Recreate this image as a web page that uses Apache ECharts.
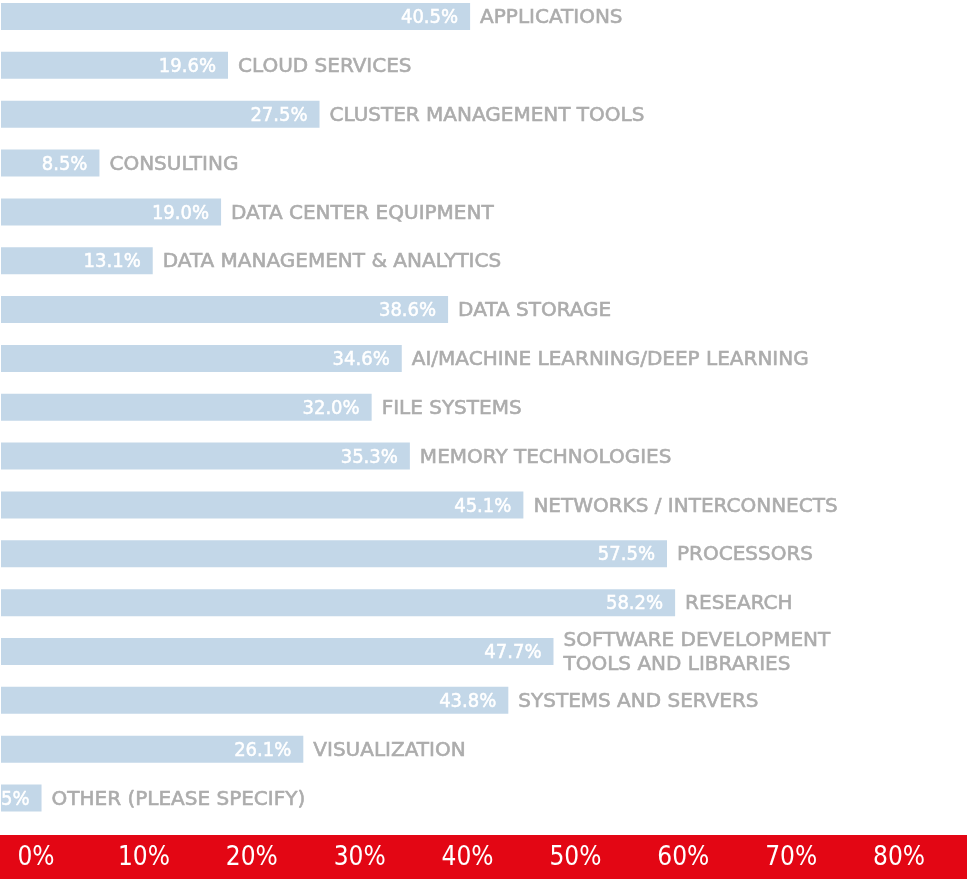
<!DOCTYPE html>
<html>
<head>
<meta charset="utf-8">
<style>
html,body{margin:0;padding:0;background:#fff;}
#chart{width:967px;height:879px;}
</style>
<script src="https://cdn.jsdelivr.net/npm/echarts@6/dist/echarts.min.js"></script>
</head>
<body>
<div id="chart"></div>
<script>
const categories = [
  "APPLICATIONS",
  "CLOUD SERVICES",
  "CLUSTER MANAGEMENT TOOLS",
  "CONSULTING",
  "DATA CENTER EQUIPMENT",
  "DATA MANAGEMENT & ANALYTICS",
  "DATA STORAGE",
  "AI/MACHINE LEARNING/DEEP LEARNING",
  "FILE SYSTEMS",
  "MEMORY TECHNOLOGIES",
  "NETWORKS / INTERCONNECTS",
  "PROCESSORS",
  "RESEARCH",
  "SOFTWARE DEVELOPMENT\nTOOLS AND LIBRARIES",
  "SYSTEMS AND SERVERS",
  "VISUALIZATION",
  "OTHER (PLEASE SPECIFY)"
];
const values = [40.5, 19.6, 27.5, 8.5, 19.0, 13.1, 38.6, 34.6, 32.0, 35.3, 45.1, 57.5, 58.2, 47.7, 43.8, 26.1, 3.5];
const tickValues = [0, 10, 20, 30, 40, 50, 60, 70, 80];

const chart = echarts.init(document.getElementById('chart'), null, {renderer: 'canvas'});
chart.setOption({
  animation: false,
  backgroundColor: '#ffffff',
  graphic: [{
    type: 'rect', z: 0, silent: true,
    shape: {x: 0, y: 835, width: 967, height: 44},
    style: {fill: '#e30614'}
  }],
  grid: [
    {left: 1, right: 0, top: 16.5, bottom: 81, containLabel: false},
    {left: 36, right: 68, top: 800, bottom: 44, containLabel: false}
  ],
  xAxis: [
    {type: 'value', gridIndex: 0, min: 0, max: 83.4, show: false},
    {type: 'value', gridIndex: 1, min: 0, max: 80, interval: 10, z: 10,
     axisLine: {show: false}, axisTick: {show: false}, splitLine: {show: false},
     axisLabel: {
       margin: 10, color: '#ffffff', fontSize: 26,
       fontFamily: "'Liberation Sans Narrow', 'DejaVu Sans Condensed', sans-serif",
       formatter: function (v) { return tickValues.indexOf(v) >= 0 ? v + '%' : ''; }
     }}
  ],
  yAxis: [
    {type: 'category', gridIndex: 0, data: categories, inverse: true, boundaryGap: false, show: false},
    {type: 'category', gridIndex: 1, data: [''], show: false}
  ],
  series: [
    {
      type: 'bar', xAxisIndex: 0, yAxisIndex: 0, clip: false,
      data: values, barWidth: 27,
      itemStyle: {color: '#c3d7e8'},
      label: {
        show: true, position: 'insideRight', distance: 12, offset: [0, 1.5],
        color: '#ffffff', fontSize: 20,
        fontFamily: "'DejaVu Sans Condensed', 'DejaVu Sans', sans-serif",
        textBorderColor: '#ffffff', textBorderWidth: 0.5,
        formatter: function (p) { return p.value.toFixed(1) + '%'; }
      },
      z: 2
    },
    {
      type: 'bar', xAxisIndex: 0, yAxisIndex: 0, clip: false,
      data: values, barWidth: 27, barGap: '-100%',
      itemStyle: {color: 'rgba(0,0,0,0)'},
      label: {
        show: true, position: 'right', distance: 10, offset: [0, 1.5],
        color: '#acacac', fontSize: 20, lineHeight: 24,
        fontFamily: "'DejaVu Sans', sans-serif",
        textBorderColor: '#acacac', textBorderWidth: 0.6,
        formatter: function (p) { return categories[p.dataIndex]; }
      },
      z: 3
    }
  ]
});
</script>
</body>
</html>
